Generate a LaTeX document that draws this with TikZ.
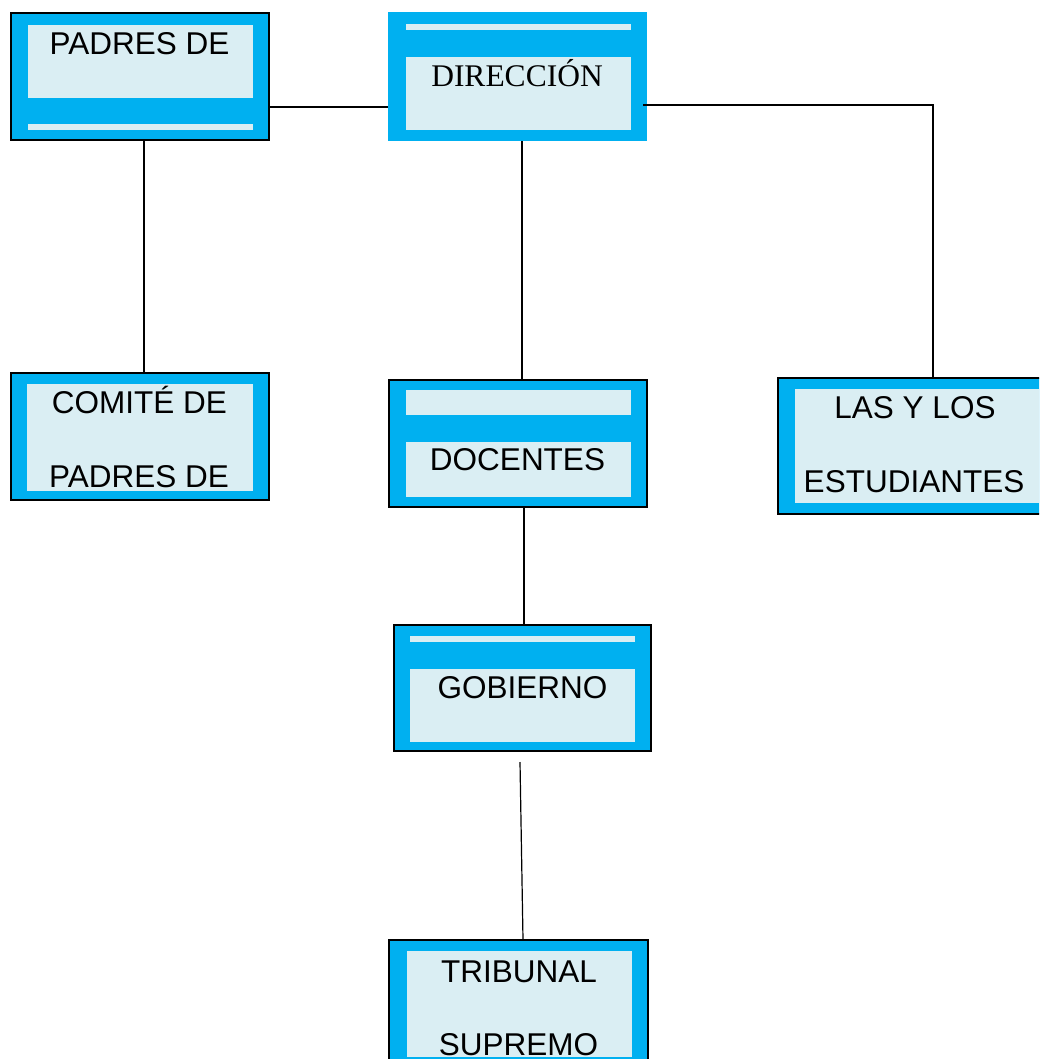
\documentclass[tikz,border=0pt]{standalone}
\usepackage{fontspec}
\setmainfont{Liberation Sans}
\newfontfamily\serifface{Liberation Serif}
\definecolor{boxcyan}{RGB}{0,176,240}
\definecolor{panel}{RGB}{218,238,243}
\begin{document}
\begin{tikzpicture}[x=1pt,y=-1pt,
  outerbox/.style={draw=black,line width=1.5pt,fill=boxcyan},
  plainbox/.style={fill=boxcyan},
  pnl/.style={fill=panel},
  lbl/.style={anchor=base,inner sep=0pt,font=\fontsize{31.5}{36}\selectfont},
  conn/.style={draw=black,line width=1.2pt}]
\useasboundingbox (0,0) rectangle (1039,1059);
\clip (0,0) rectangle (1039,1059);
\fill[white] (0,0) rectangle (1039,1059);

% PADRES DE
\draw[outerbox] (11,13) rectangle (269,140);
\coordinate (padresNW) at (11,13);
\node[inner sep=0pt,minimum width=258pt,minimum height=127pt] (padres) at (140,76.5) {};
\fill[pnl] (28,25) rectangle (253,98);
\fill[pnl] (28,124) rectangle (253,130);
\node[lbl] (padrestxt) at (139.5,55) {PADRES DE};

% DIRECCION
\fill[plainbox] (388,12) rectangle (647,141);
\node[inner sep=0pt,minimum width=259pt,minimum height=129pt] (dir) at (517.5,76.5) {};
\fill[pnl] (406,24) rectangle (631,30);
\fill[pnl] (406,57) rectangle (631,130);
\node[lbl,font=\serifface\fontsize{31.5}{36}\selectfont] (dirtxt) at (517,87) {DIRECCIÓN};

% COMITE
\draw[outerbox] (11,373) rectangle (269,500);
\node[inner sep=0pt,minimum width=258pt,minimum height=127pt] (comite) at (140,436.5) {};
\fill[pnl] (27,384) rectangle (253,491);
\node[lbl] (comtxta) at (139.5,413) {COMITÉ DE};
\node[lbl] (comtxtb) at (139,487) {PADRES DE};

% DOCENTES
\draw[outerbox] (389,380) rectangle (647,507);
\node[inner sep=0pt,minimum width=258pt,minimum height=127pt] (doc) at (518,443.5) {};
\fill[pnl] (406,390) rectangle (631,415);
\fill[pnl] (406,442) rectangle (631,497);
\node[lbl] (doctxt) at (517.5,470) {DOCENTES};

% ESTUDIANTES
\draw[outerbox] (778,378) rectangle (1060,514);
\node[inner sep=0pt,minimum width=282pt,minimum height=136pt] (est) at (919,446) {};
\fill[pnl] (795,389) rectangle (1045,503);
\node[lbl] (esttxta) at (915,418) {LAS Y LOS};
\node[lbl] (esttxtb) at (914,492) {ESTUDIANTES};

% GOBIERNO
\draw[outerbox] (394,625) rectangle (651,751);
\node[inner sep=0pt,minimum width=257pt,minimum height=126pt] (gob) at (522.5,688) {};
\fill[pnl] (410,636) rectangle (635,642);
\fill[pnl] (410,669) rectangle (635,742);
\node[lbl] (gobtxt) at (522.5,698) {GOBIERNO};

% TRIBUNAL
\draw[outerbox] (389,940) rectangle (648,1070);
\node[inner sep=0pt,minimum width=259pt,minimum height=130pt] (trib) at (518.5,1005) {};
\fill[pnl] (407,951) rectangle (632,1057);
\node[lbl] (tribtxta) at (519,982) {TRIBUNAL};
\node[lbl] (tribtxtb) at (518.5,1055) {SUPREMO};

% connectors
\coordinate (dirout) at (643,105);
\coordinate (corner) at (933,105);
\coordinate (gobout) at (520,762);
\draw[conn] (padres.east |- 0,107) -- (dir.west |- 0,107);
\draw[conn] (dirout) -- (corner) -- (corner |- est.north);
\draw[conn] (144,0 |- padres.south) -- (144,0 |- comite.north);
\draw[conn] (522,0 |- dir.south) -- (522,0 |- doc.north);
\draw[conn] (524,0 |- doc.south) -- (524,0 |- gob.north);
\draw[conn] (gobout) -- (523,0 |- trib.north);
\end{tikzpicture}
\end{document}
